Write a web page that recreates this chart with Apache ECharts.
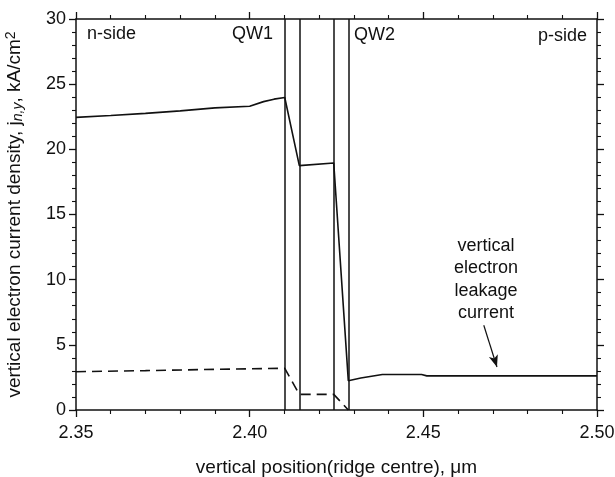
<!DOCTYPE html>
<html>
<head>
<meta charset="utf-8">
<script src="https://cdn.jsdelivr.net/npm/echarts@6/dist/echarts.min.js"></script>
<style>
html,body{margin:0;padding:0;background:#fff;}
#chart{width:615px;height:477px;}
</style>
</head>
<body>
<div id="chart"></div>
<script>
// Data
var totalCurrent = [
  [2.35, 22.45], [2.36, 22.6], [2.37, 22.76], [2.38, 22.95], [2.39, 23.18], [2.40, 23.3],
  [2.404, 23.66], [2.407, 23.85], [2.4101, 23.98], [2.4143, 18.75], [2.4242, 18.95],
  [2.4284, 2.25], [2.432, 2.45], [2.4382, 2.72], [2.4495, 2.72], [2.451, 2.62], [2.50, 2.62]
];
var leakageCurrent = [
  [2.35, 2.94], [2.37, 3.02], [2.39, 3.12], [2.4101, 3.2], [2.4143, 1.2], [2.4242, 1.2], [2.4284, 0]
];
var wellBoundaries = [2.4101, 2.4143, 2.4242, 2.4284];
var arrowFrom = [2.4674, 6.5];
var arrowTo = [2.4712, 3.3];
var xTicks = { min: 2.35, max: 2.50, interval: 0.05 };
var yTicks = { min: 0, max: 30, interval: 5 };

var FONT = 'Liberation Sans, Arial, Helvetica, sans-serif';
var FS = 18;
var NFS = 19;
var chart = echarts.init(document.getElementById('chart'), null, {renderer: 'canvas'});

var axisCommon = {
  axisLine: { show: true, onZero: false, lineStyle: { color: '#111', width: 1.5 } },
  axisTick: { show: true, inside: false, length: 7, lineStyle: { color: '#111', width: 1.3 } },
  minorTick: { show: true, splitNumber: 5, length: 4, lineStyle: { color: '#111', width: 1.1 } },
  splitLine: { show: false }
};

var option = {
  animation: false,
  backgroundColor: '#fff',
  grid: { left: 76, right: 18, top: 19, bottom: 67, containLabel: false, outerBoundsMode: 'none' },
  xAxis: [
    Object.assign({
      type: 'value', min: xTicks.min, max: xTicks.max, interval: xTicks.interval, position: 'bottom',
      name: 'vertical position(ridge centre), \u03bcm', nameLocation: 'middle', nameGap: 48,
      nameTextStyle: { fontFamily: FONT, fontSize: NFS, color: '#111' },
      axisLabel: { fontFamily: FONT, fontSize: FS, color: '#111', margin: 14,
        formatter: function (v) { return v.toFixed(2); } }
    }, axisCommon),
    Object.assign({
      type: 'value', min: xTicks.min, max: xTicks.max, interval: xTicks.interval, position: 'top',
      axisLabel: { show: false }
    }, axisCommon)
  ],
  yAxis: [
    Object.assign({
      type: 'value', min: yTicks.min, max: yTicks.max, interval: yTicks.interval, position: 'left',
      name: 'vertical electron current density, j{sub|n,y}, kA/cm{sup|2}',
      nameLocation: 'middle', nameGap: 50, nameRotate: 90,
      nameTextStyle: { fontFamily: FONT, fontSize: NFS, color: '#111',
        rich: {
          sub: { fontFamily: FONT, fontSize: 14, fontStyle: 'italic', color: '#111', padding: [6, 0, 0, 0] },
          sup: { fontFamily: FONT, fontSize: 14, color: '#111', padding: [0, 0, 8, 0] }
        }
      },
      axisLabel: { fontFamily: FONT, fontSize: FS, color: '#111', margin: 10 }
    }, axisCommon),
    Object.assign({
      type: 'value', min: yTicks.min, max: yTicks.max, interval: yTicks.interval, position: 'right',
      axisLabel: { show: false }
    }, axisCommon)
  ],
  series: [
    {
      type: 'line', data: totalCurrent, showSymbol: false, symbol: 'none',
      lineStyle: { color: '#111', width: 1.6 }, z: 5,
      markLine: {
        silent: true, precision: 6, symbol: ['none', 'none'], label: { show: false },
        lineStyle: { color: '#111', width: 1.5, type: 'solid' },
        data: wellBoundaries.map(function (v) { return { xAxis: v }; })
      }
    },
    {
      type: 'line', data: leakageCurrent, showSymbol: false, symbol: 'none',
      lineStyle: { color: '#111', width: 1.6, type: [10, 6] }, z: 5,
      markLine: {
        silent: true, precision: 6, symbol: ['none', 'arrow'], symbolSize: [7, 12], label: { show: false },
        lineStyle: { color: '#111', width: 1.2, type: 'solid' },
        data: [[{ coord: arrowFrom }, { coord: arrowTo }]]
      }
    }
  ],
  graphic: [
    { type: 'text', left: 87, top: 25, style: { text: 'n-side', font: FS + 'px ' + FONT, fill: '#111' } },
    { type: 'text', right: 615 - 273, top: 25, style: { text: 'QW1', font: FS + 'px ' + FONT, fill: '#111' } },
    { type: 'text', left: 354, top: 26, style: { text: 'QW2', font: FS + 'px ' + FONT, fill: '#111' } },
    { type: 'text', right: 615 - 587, top: 27, style: { text: 'p-side', font: FS + 'px ' + FONT, fill: '#111' } },
    { type: 'text', x: 486, y: 235, style: { text: 'vertical\nelectron\nleakage\ncurrent', font: FS + 'px ' + FONT,
      fill: '#111', align: 'center', lineHeight: 22.3 } }
  ]
};
chart.setOption(option);
</script>
</body>
</html>
